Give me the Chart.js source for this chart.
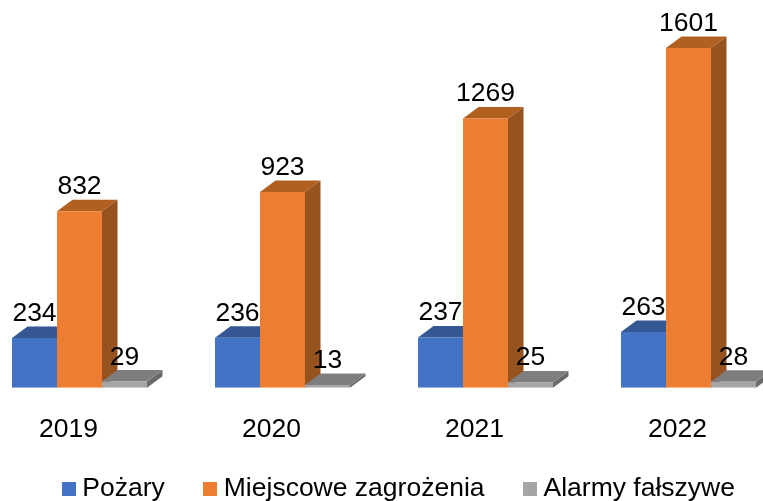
<!DOCTYPE html>
<html lang="pl"><head><meta charset="utf-8">
<style>html,body{margin:0;padding:0;background:#fff;overflow:hidden;width:763px;height:501px}
canvas{position:absolute;left:-22px;top:0}</style>
<script src="https://cdn.jsdelivr.net/npm/chart.js@4"></script></head>
<body><canvas id="c" width="812" height="501"></canvas>
<script>
const years=['2019','2020','2021','2022'];
const pozary=[234,236,237,263];
const miejscowe=[832,923,1269,1601];
const alarmy=[29,13,25,28];
const names=['Pożary','Miejscowe zagrożenia','Alarmy fałszywe'];
const front=['#4472C4','#ED7D31','#A5A5A5'];
const topFace=['#355793','#B1601F','#7E7E7E'];
const sideFace=['#2E4C80','#96521F','#6A6A6A'];
const FONT='"Liberation Sans", Arial, sans-serif';
const DX=15.5,DY=11.5;
const poly=(ctx,pts,col)=>{ctx.fillStyle=col;ctx.beginPath();pts.forEach((p,i)=>i?ctx.lineTo(p[0],p[1]):ctx.moveTo(p[0],p[1]));ctx.closePath();ctx.fill();};
const swatch=col=>{const s=document.createElement('canvas');s.width=14;s.height=14;const x=s.getContext('2d');x.fillStyle=col;x.fillRect(0,0,14,14);return s;};
const threeD={id:'threeD',
 beforeDatasetsDraw(chart){const ctx=chart.ctx;ctx.save();
  chart.data.datasets.forEach((d,di)=>{chart.getDatasetMeta(di).data.forEach(b=>{
   const l=b.x-b.width/2,r=b.x+b.width/2,t=b.y,bt=b.base;
   poly(ctx,[[r,t],[r+DX,t-DY],[r+DX,bt-DY],[r,bt]],sideFace[di]);
   poly(ctx,[[l,t],[r,t],[r+DX,t-DY],[l+DX,t-DY]],topFace[di]);
  });});ctx.restore();},
 afterDatasetsDraw(chart){const ctx=chart.ctx;ctx.save();ctx.fillStyle='#000';ctx.font='26.5px '+FONT;ctx.textAlign='center';ctx.textBaseline='alphabetic';
  chart.data.datasets.forEach((d,di)=>{chart.getDatasetMeta(di).data.forEach((b,i)=>{
   ctx.fillText(String(d.data[i]),b.x,b.y-17);
  });});ctx.restore();},
 afterLayout(chart){chart.legend.left+=17.5;chart.legend.right+=17.5;chart.legend.top-=19;chart.legend.bottom-=19;}
};
new Chart(document.getElementById('c'),{type:'bar',plugins:[threeD],
 data:{labels:years,datasets:names.map((n,i)=>({label:n,data:[pozary,miejscowe,alarmy][i],backgroundColor:front[i],borderWidth:0,categoryPercentage:135/203,barPercentage:1}))},
 options:{responsive:false,animation:false,
  layout:{padding:{top:27,bottom:-30,left:0,right:0}},
  scales:{
   x:{grid:{display:false},border:{display:false},afterFit(s){s.height=62;},
      ticks:{color:'#000',font:{family:FONT,size:26.5},padding:18,labelOffset:-11,maxRotation:0,autoSkip:false}},
   y:{display:false,min:0,max:1700}},
  plugins:{tooltip:{enabled:false},
   legend:{position:'bottom',labels:{color:'#000',font:{family:FONT,size:26.5},boxWidth:14,boxHeight:14,padding:44.75,usePointStyle:true,pointStyleWidth:1,
     generateLabels(chart){return Chart.defaults.plugins.legend.labels.generateLabels(chart).map((it,i)=>({...it,pointStyle:swatch(front[i])}));}}}}
 }});
</script></body></html>
